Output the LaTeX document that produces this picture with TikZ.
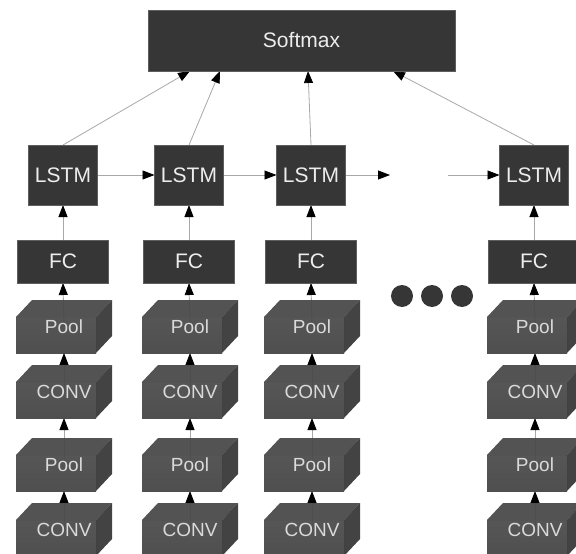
\documentclass[tikz,border=0pt]{standalone}
\usepackage{fontspec}
\setmainfont{Liberation Sans}
\usepackage{tikz}
\usetikzlibrary{arrows.meta,backgrounds}
\definecolor{boxfill}{HTML}{363636}
\definecolor{boxtext}{HTML}{EDEDED}
\definecolor{cubefront}{HTML}{4E4E4E}
\definecolor{cubelow}{HTML}{444444}
\definecolor{cubetopface}{HTML}{484848}
\definecolor{cubeside}{HTML}{373737}
\definecolor{wire}{HTML}{A8A8A8}
\tikzset{
  box/.style={fill=boxfill,draw=boxfill!80,line width=.4pt,text=boxtext,inner sep=0pt,outer sep=0pt,font=\fontsize{21}{24}\selectfont},
  lstmbox/.style={box,minimum width=69pt,minimum height=60pt},
  fcbox/.style={box,minimum width=91pt,minimum height=43pt},
  cubebox/.style={inner sep=0pt,outer sep=0pt,minimum width=96pt,minimum height=53pt,text=boxtext!92!black,
    font=\fontsize{19}{22}\selectfont,
    path picture={
      \shade[top color=cubefront,bottom color=cubelow,fill opacity=.94]
        (path picture bounding box.south west) rectangle ++(80,-36);
      \fill[cubetopface,fill opacity=.94] (path picture bounding box.south west) ++(0,-36)
        -- ++(16,-17) -- ++(80,0) -- ++(-16,17) -- cycle;
      \fill[cubeside,fill opacity=.94] (path picture bounding box.south west) ++(80,0)
        -- ++(16,-17) -- ++(0,-36) -- ++(-16,17) -- cycle;
    }},
  arr/.style={-{Triangle[length=12pt,width=9pt,black]},draw=wire,line width=.8pt},
  dotmark/.style={circle,fill=boxfill,minimum size=22pt,inner sep=0pt}
}
\begin{document}
\begin{tikzpicture}[x=1pt,y=-1pt]
\useasboundingbox (0,0) rectangle (576,554);
\node[box,minimum width=307pt,minimum height=61pt] (sm) at (301.5,40.5) {Softmax};
% one column per time step
\foreach \i/\x in {1/63,2/189,3/311,4/534}{
  \node[lstmbox] (lstm\i) at (\x,175) {LSTM};
  \node[fcbox] (fc\i) at (\x,261.5) {FC};
  \node[cubebox] (poolA\i) at (\x+1,326.5) {Pool};
  \node[cubebox] (convA\i) at (\x+1,391.5) {CONV};
  \node[cubebox] (poolB\i) at (\x+1,464.5) {Pool};
  \node[cubebox] (convB\i) at (\x+1,529.5) {CONV};
}
\node[dotmark] (d1) at (402,296) {};
\node[dotmark] (d2) at (432,296) {};
\node[dotmark] (d3) at (462,296) {};
\coordinate (gapL) at (390,175);
\coordinate (gapR) at (448,175);
\begin{scope}[on background layer]
\foreach \i in {1,...,4}{
  \draw[arr] (convB\i.center) -- (poolB\i.south);
  \draw[arr] (poolB\i.center) -- (convA\i.south);
  \draw[arr] (convA\i.center) -- (poolA\i.south);
  \draw[arr] (poolA\i.center) -- (fc\i.south);
  \draw[arr] (fc\i) -- (lstm\i);
}
\draw[arr] (lstm1) -- (lstm2);
\draw[arr] (lstm2) -- (lstm3);
\draw[arr] (lstm3) -- (gapL);
\draw[arr] (gapR) -- (lstm4);
\draw[arr] (lstm1.north) -- ([xshift=-111.5pt]sm.south);
\draw[arr] (lstm2.north) -- ([xshift=-81.5pt]sm.south);
\draw[arr] (lstm3.north) -- ([xshift=6.5pt]sm.south);
\draw[arr] (lstm4.north) -- ([xshift=91.5pt]sm.south);
\end{scope}
\end{tikzpicture}
\end{document}
